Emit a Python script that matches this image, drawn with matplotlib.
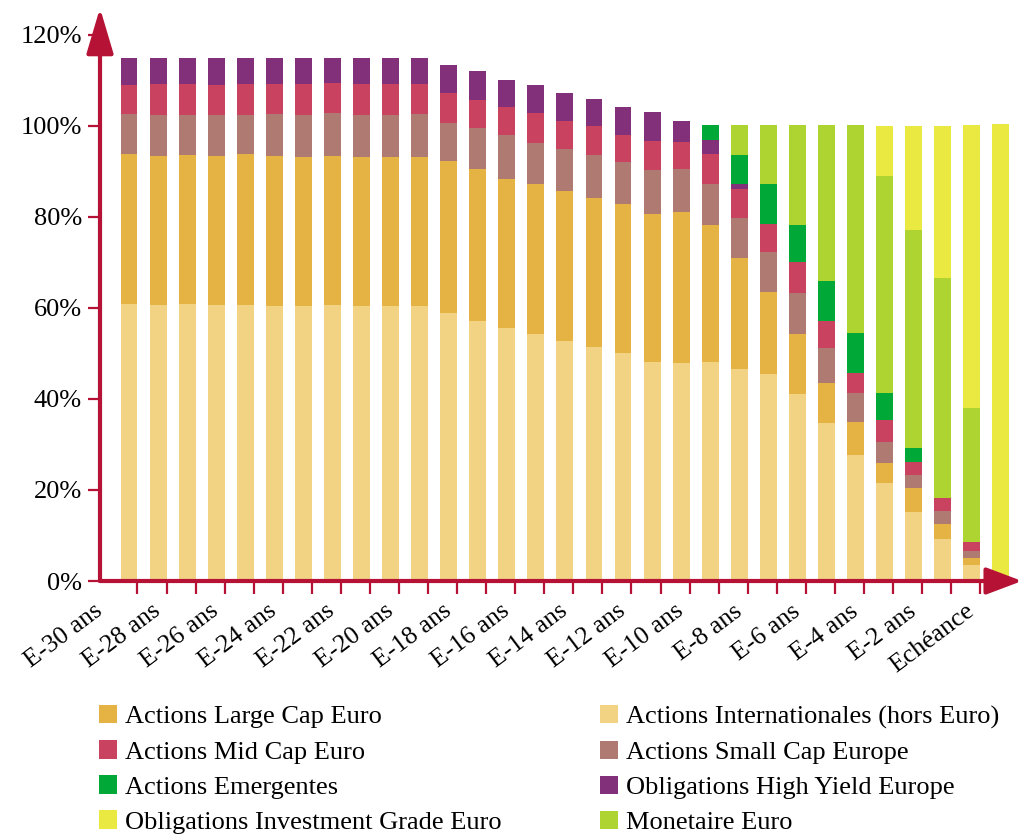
import matplotlib
matplotlib.use('Agg')
import matplotlib.pyplot as plt
import numpy as np

plt.rcParams['font.family'] = ['Liberation Serif', 'DejaVu Serif']

# one bar per year before maturity, E-30 ans ... E-1 ans, Echéance
tick_labels = ['E-30 ans', 'E-28 ans', 'E-26 ans', 'E-24 ans', 'E-22 ans', 'E-20 ans',
               'E-18 ans', 'E-16 ans', 'E-14 ans', 'E-12 ans', 'E-10 ans', 'E-8 ans',
               'E-6 ans', 'E-4 ans', 'E-2 ans', 'Echéance']

# allocations in %, stacked bottom to top
intl = [60.9, 60.7, 60.9, 60.7, 60.7, 60.4, 60.4, 60.7, 60.4, 60.4, 60.4, 58.9, 57.1, 55.6, 54.3, 52.7,
        51.4, 50.1, 48.1, 47.9, 48.1, 46.6, 45.5, 41.1, 34.7, 27.7, 21.5, 15.2, 9.2, 3.5, 0]
large = [32.9, 32.7, 32.7, 32.7, 33.1, 33.0, 32.8, 32.7, 32.8, 32.8, 32.8, 33.4, 33.4, 32.8, 33.0, 33.0,
         32.8, 32.8, 32.6, 33.2, 30.1, 24.4, 18.0, 13.2, 8.8, 7.2, 4.4, 5.2, 3.3, 1.6, 0]
small = [8.8, 9.0, 8.8, 9.0, 8.6, 9.2, 9.2, 9.5, 9.2, 9.2, 9.4, 8.4, 9.1, 9.6, 9.0, 9.2,
         9.4, 9.2, 9.6, 9.4, 9.1, 8.8, 8.8, 9.0, 7.7, 6.4, 4.6, 2.9, 2.9, 1.5, 0]
mid = [6.4, 6.8, 6.8, 6.6, 6.8, 6.6, 6.8, 6.6, 6.8, 6.8, 6.6, 6.6, 6.1, 6.2, 6.6, 6.2,
       6.4, 5.9, 6.4, 6.0, 6.5, 6.4, 6.2, 6.8, 5.9, 4.4, 4.9, 2.9, 2.8, 2.0, 0]
hy = [5.9, 5.7, 5.7, 5.9, 5.7, 5.7, 5.7, 5.4, 5.7, 5.7, 5.7, 6.1, 6.4, 5.9, 6.1, 6.2,
      5.9, 6.2, 6.4, 4.6, 3.1, 1.1, 0, 0, 0, 0, 0, 0, 0, 0, 0]
emerg = [0, 0, 0, 0, 0, 0, 0, 0, 0, 0, 0, 0, 0, 0, 0, 0,
         0, 0, 0, 0, 3.3, 6.3, 8.8, 8.1, 8.8, 8.8, 5.9, 3.0, 0, 0, 0]
mon = [0, 0, 0, 0, 0, 0, 0, 0, 0, 0, 0, 0, 0, 0, 0, 0,
       0, 0, 0, 0, 0, 6.6, 12.9, 22.0, 34.3, 45.7, 47.7, 47.9, 48.4, 29.4, 0]
ig = [0, 0, 0, 0, 0, 0, 0, 0, 0, 0, 0, 0, 0, 0, 0, 0,
      0, 0, 0, 0, 0, 0, 0, 0, 0, 0, 11.0, 22.9, 33.4, 62.2, 100.4]

series = [
    ('Actions Internationales (hors Euro)', intl, '#f2d383'),
    ('Actions Large Cap Euro', large, '#e5b244'),
    ('Actions Small Cap Europe', small, '#af7a72'),
    ('Actions Mid Cap Euro', mid, '#c94361'),
    ('Obligations High Yield Europe', hy, '#83307a'),
    ('Actions Emergentes', emerg, '#00a838'),
    ('Monetaire Euro', mon, '#aed432'),
    ('Obligations Investment Grade Euro', ig, '#e9e942'),
]
axis_col = '#b51235'

fig = plt.figure(figsize=(10.24, 8.36), dpi=100)
ax = fig.add_axes([100 / 1024, 255 / 836, 922 / 1024, 573 / 836])

x = np.arange(len(intl))
w = 0.58
bottom = np.zeros(len(x))
handles = {}
for name, vals, col in series:
    b = ax.bar(x, vals, w, bottom=bottom, color=col, linewidth=0, label=name)
    handles[name] = b
    bottom += np.array(vals)

ax.set_xlim(-0.73, 30.73)
ax.set_ylim(0, 125.9)
for s in ax.spines.values():
    s.set_visible(False)

# y axis
ax.set_yticks(np.arange(0, 121, 20))
ax.set_yticklabels(['%d%%' % v for v in range(0, 121, 20)])
ax.tick_params(axis='y', length=9, width=1.6, color=axis_col, pad=4, labelsize=19)

# x axis: marks at bar edges, labels every other bar
ax.set_xticks(x[:-1] + w / 2, minor=True)
ax.set_xticks(x[::2] - 1.0)
ax.set_xticklabels(tick_labels)
ax.tick_params(axis='x', which='minor', length=9, width=1.6, color=axis_col)
ax.tick_params(axis='x', which='major', length=0, pad=20, labelsize=18.5)
for t in ax.get_xticklabels():
    t.set_rotation(37)
    t.set_ha('right')
    t.set_va('center')
    t.set_rotation_mode('anchor')

# arrow axes
ax.annotate('', xy=(0, 1), xytext=(0, 0), xycoords='axes fraction', annotation_clip=False,
            arrowprops=dict(arrowstyle='-|>,head_length=2.8,head_width=0.83', mutation_scale=10,
                            color=axis_col, lw=3, shrinkA=0, shrinkB=0))
ax.annotate('', xy=(1, 0), xytext=(0, 0), xycoords='axes fraction', annotation_clip=False,
            arrowprops=dict(arrowstyle='-|>,head_length=2.2,head_width=0.83', mutation_scale=10,
                            color=axis_col, lw=3, shrinkA=0, shrinkB=0))

left_names = ['Actions Large Cap Euro', 'Actions Mid Cap Euro', 'Actions Emergentes',
              'Obligations Investment Grade Euro']
right_names = ['Actions Internationales (hors Euro)', 'Actions Small Cap Europe',
               'Obligations High Yield Europe', 'Monetaire Euro']
leg_kw = dict(loc='upper left', frameon=False, fontsize=19, handlelength=0.7, handleheight=0.7,
              handletextpad=0.3, labelspacing=0.44, borderpad=0, borderaxespad=0)
leg1 = fig.legend([handles[n] for n in left_names], left_names,
                  bbox_to_anchor=(99 / 1024, 1 - 705 / 836), **leg_kw)
leg2 = fig.legend([handles[n] for n in right_names], right_names,
                  bbox_to_anchor=(600 / 1024, 1 - 705 / 836), **leg_kw)

fig.savefig('out.png', dpi=100)
